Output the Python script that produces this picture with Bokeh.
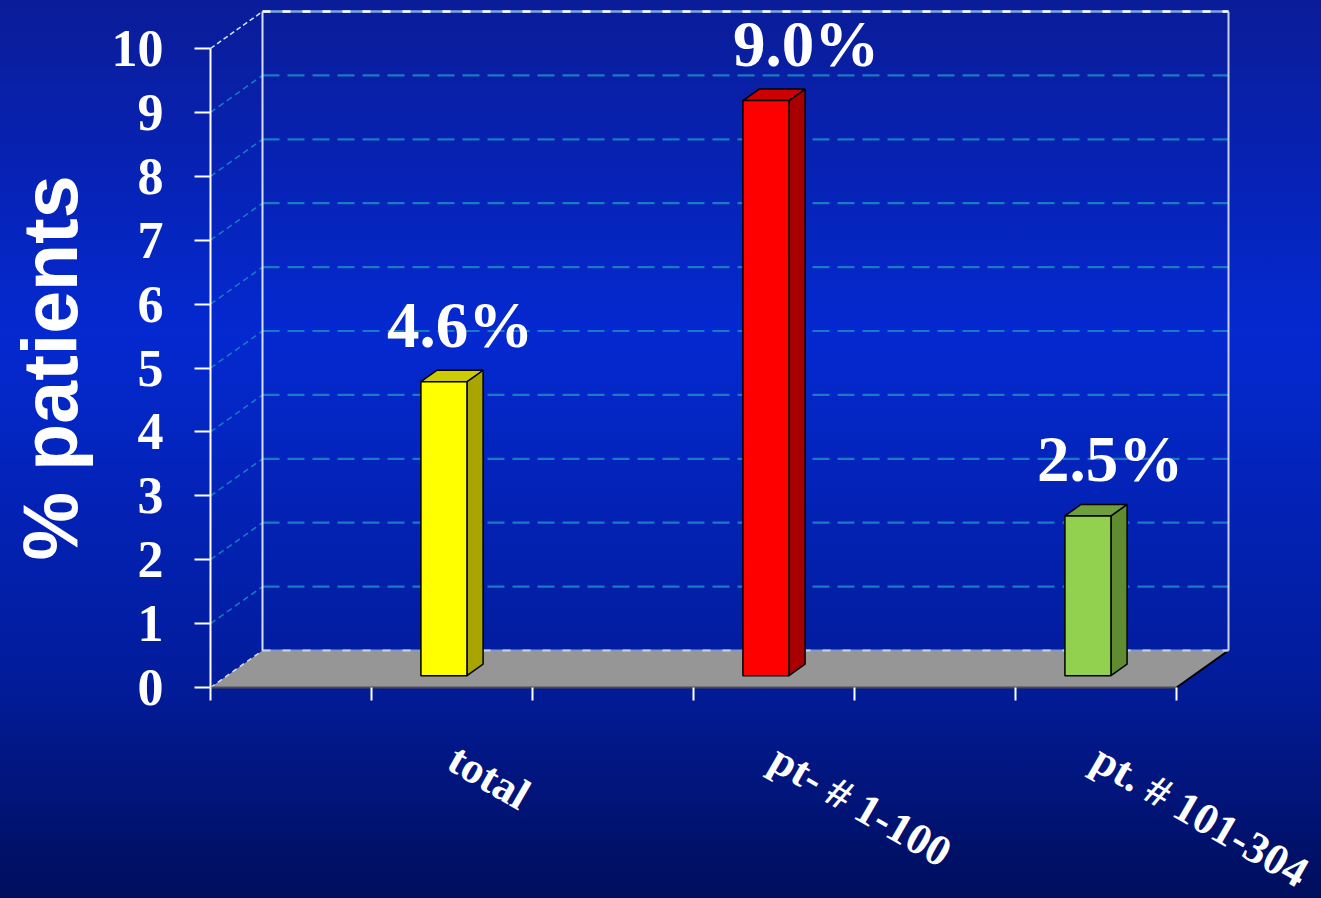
import math

from bokeh.core.properties import value
from bokeh.embed import file_html
from bokeh.models import ColumnDataSource, FixedTicker, LinearAxis, Range1d
from bokeh.plotting import figure
from bokeh.resources import INLINE

# ---- data -------------------------------------------------------------
categories = ["total", "pt- # 1-100", "pt. # 101-304"]
rates = [4.6, 9.0, 2.5]
rate_labels = ["4.6%", "9.0%", "2.5%"]
slot_centers = [1.5, 3.5, 5.5]          # category positions on the x scale
y_ticks = list(range(0, 11))
x_ticks = list(range(0, 7))              # slot boundaries on the floor

front_colors = ["#ffff00", "#ff0000", "#92d050"]
side_colors = ["#a9a500", "#a80000", "#5f8c30"]
top_colors = ["#cccc00", "#cc0000", "#6f9e3e"]

# ---- layout / 3D projection constants ----------------------------------
W, H = 1321, 898
ORIGIN_X, ORIGIN_Y = 210, 687            # canvas position of (0, 0)
PX_X, PX_Y = 161.0, 63.9                 # pixels per x unit / per percent
DX, DY = 52 / PX_X, 37 / PX_Y            # depth vector of the floor
Z0, DZ = 0.32, 0.31                      # bar depth start and thickness
BAR_W = 0.286
X_MAX, Y_MAX = 6, 10
LABEL_GAP = 0.71
label_nudge = [0.05, 0.2, 0.087]         # hand placement of the value labels

GRID_COLOR = "#1a7ac4"
EDGE_LIGHT = "#d8e0f4"

p = figure(
    width=W, height=H,
    x_range=Range1d(-ORIGIN_X / PX_X, (W - ORIGIN_X) / PX_X),
    y_range=Range1d(-(H - ORIGIN_Y) / PX_Y, ORIGIN_Y / PX_Y),
    x_axis_type=None, y_axis_type=None,
    output_backend="svg", toolbar_location=None,
    min_border=0,
)
p.outline_line_color = None
p.background_fill_color = None
p.border_fill_color = None
p.styles = {
    "background": "linear-gradient(to bottom, #0a1c98 0%, #0429d0 37%, "
                  "#021c9c 75%, #000e5c 100%)"
}

# ---- floor ----------------------------------------------------------------
p.patch([0, X_MAX, X_MAX + DX, DX], [0, 0, DY, DY],
        fill_color="#969696", line_color=None)
p.line([X_MAX, X_MAX + DX], [0, DY], line_color="black", line_width=2)
p.line([0, DX], [0, DY], line_color=EDGE_LIGHT, line_width=1.5, line_dash="5 4")
p.line([DX, X_MAX + DX], [DY, DY], line_color="#7d9ad2", line_width=2)
p.line([DX, X_MAX + DX], [DY, DY], line_color="#c8d2e6", line_width=2,
       line_dash="8 12")

# ---- back wall grid and left-wall diagonals ----------------------------------
grid_y = [k + DY for k in y_ticks[1:-1]]
p.multi_line([[DX, X_MAX + DX] for _ in grid_y], [[g, g] for g in grid_y],
             line_color=GRID_COLOR, line_width=2.2, line_dash="17 8")
p.multi_line([[0, DX] for _ in y_ticks[1:-1]],
             [[k, k + DY] for k in y_ticks[1:-1]],
             line_color=GRID_COLOR, line_width=1.5, line_dash="6 4")

# top edge of the walls
p.line([DX, X_MAX + DX], [Y_MAX + DY, Y_MAX + DY], line_color="#7fa6e0", line_width=2.5)
p.line([DX, X_MAX + DX], [Y_MAX + DY, Y_MAX + DY], line_color="white",
       line_width=2.5, line_dash="8 12")
p.line([0, DX], [Y_MAX, Y_MAX + DY], line_color=EDGE_LIGHT, line_width=1.5,
       line_dash="5 3")

# vertical edges of the back wall
p.line([DX, DX], [DY, Y_MAX + DY], line_color=EDGE_LIGHT, line_width=2)
p.line([X_MAX + DX, X_MAX + DX], [DY, Y_MAX + DY], line_color="#c8d0e8", line_width=2)

# ---- 3D bars -----------------------------------------------------------------
front_l, front_r, front_b, front_t = [], [], [], []
side_xs, side_ys, top_xs, top_ys = [], [], [], []
ox, oy = DZ * DX, DZ * DY
for xc, v in zip(slot_centers, rates):
    fc = xc - ox / 2
    l, r = fc - BAR_W / 2, fc + BAR_W / 2
    b, t = Z0 * DY, v + Z0 * DY
    front_l.append(l); front_r.append(r); front_b.append(b); front_t.append(t)
    side_xs.append([r, r + ox, r + ox, r])
    side_ys.append([b, b + oy, t + oy, t])
    top_xs.append([l, r, r + ox, l + ox])
    top_ys.append([t, t, t + oy, t + oy])

p.patches(side_xs, side_ys, fill_color=side_colors, line_color="black", line_width=1.5)
p.patches(top_xs, top_ys, fill_color=top_colors, line_color="black", line_width=1.5)
p.quad(left=front_l, right=front_r, bottom=front_b, top=front_t,
       fill_color=front_colors, line_color="black", line_width=1.5)

# value labels above each bar
lab_src = ColumnDataSource(dict(
    x=[xc + n for xc, n in zip(slot_centers, label_nudge)],
    y=[v + (Z0 + DZ) * DY + LABEL_GAP for v in rates],
    text=rate_labels,
))
p.text(x="x", y="y", text="text", source=lab_src,
       text_font=value("Liberation Serif"), text_font_style="bold",
       text_font_size="65px", text_color="white",
       text_align="center", text_baseline="alphabetic")

# ---- axes --------------------------------------------------------------------
yaxis = LinearAxis(fixed_location=0, bounds=(0, Y_MAX),
                   ticker=FixedTicker(ticks=y_ticks))
yaxis.axis_line_color = "white"
yaxis.axis_line_width = 2
yaxis.major_tick_out = 16
yaxis.major_tick_in = 0
yaxis.major_tick_line_color = "white"
yaxis.major_tick_line_width = 2
yaxis.minor_tick_line_color = None
yaxis.major_label_standoff = 31
yaxis.major_label_text_font = "Liberation Serif"
yaxis.major_label_text_font_style = "bold"
yaxis.major_label_text_font_size = "52px"
yaxis.major_label_text_color = "white"
yaxis.axis_label = "% patients"
yaxis.axis_label_text_font = "Liberation Sans"
yaxis.axis_label_text_font_style = "bold"
yaxis.axis_label_text_font_size = "77px"
yaxis.axis_label_text_color = "white"
yaxis.axis_label_standoff = 16
p.add_layout(yaxis, "left")

xaxis = LinearAxis(fixed_location=0, bounds=(0, X_MAX),
                   ticker=FixedTicker(ticks=slot_centers, minor_ticks=x_ticks))
xaxis.major_label_overrides = {c: lab for c, lab in zip(slot_centers, categories)}
xaxis.axis_line_color = "#4d4d4d"
xaxis.axis_line_width = 2
xaxis.major_tick_line_color = None
xaxis.major_tick_in = 0
xaxis.major_tick_out = 0
xaxis.minor_tick_in = 0
xaxis.minor_tick_out = 13
xaxis.minor_tick_line_color = "white"
xaxis.minor_tick_line_width = 2
xaxis.major_label_orientation = -math.radians(30)
xaxis.major_label_standoff = 55
xaxis.major_label_text_font = "Liberation Serif"
xaxis.major_label_text_font_style = "bold"
xaxis.major_label_text_font_size = "44px"
xaxis.major_label_text_color = "white"
p.add_layout(xaxis, "below")

open("out.html", "w").write(file_html(p, INLINE))
